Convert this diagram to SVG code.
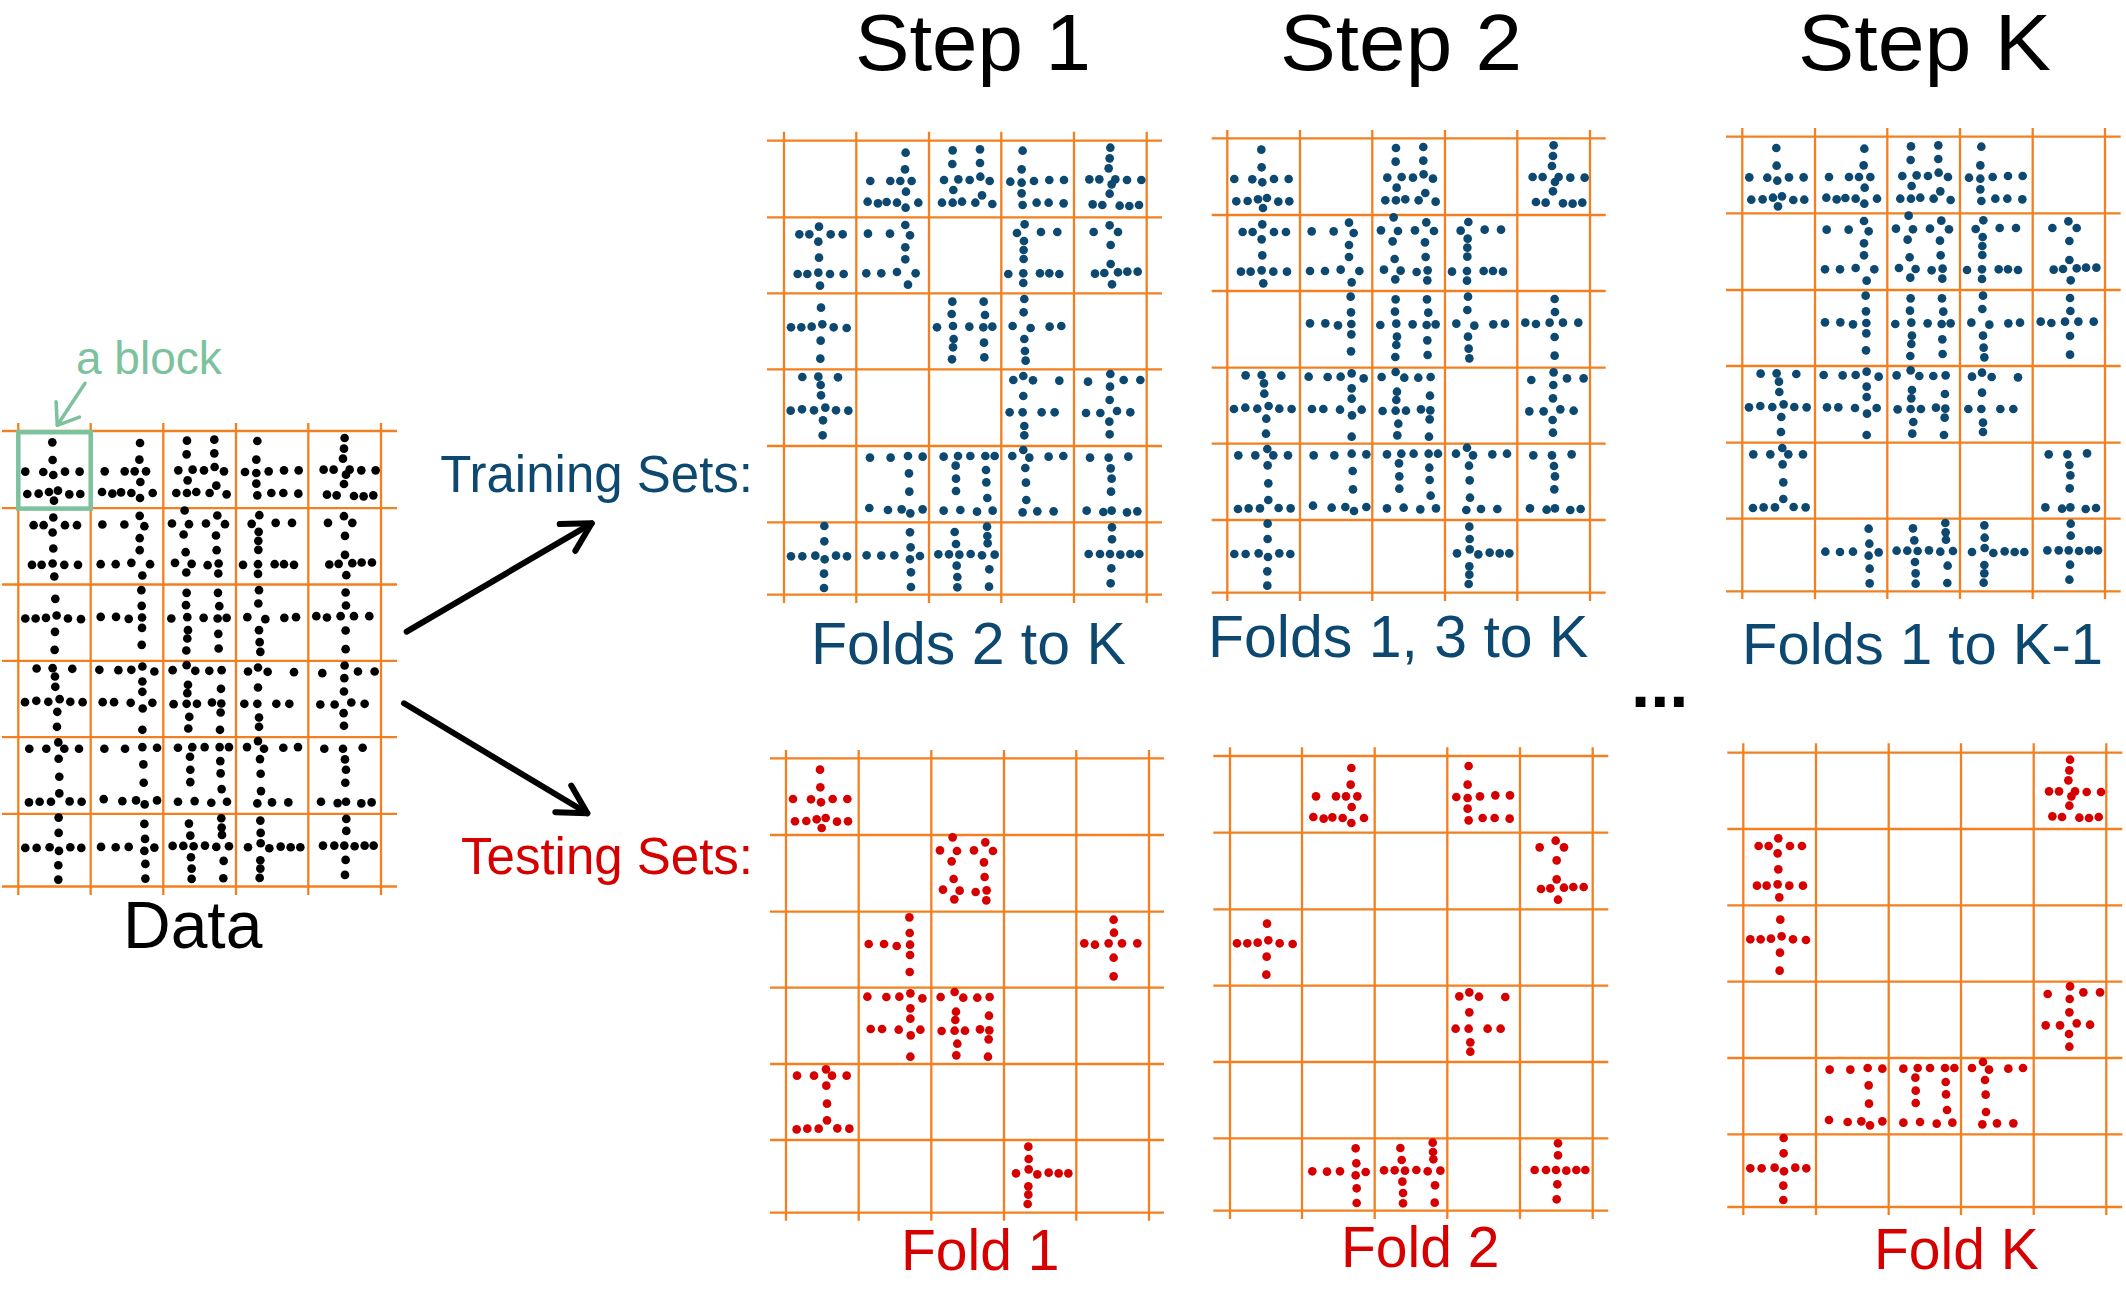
<svg xmlns="http://www.w3.org/2000/svg" xmlns:xlink="http://www.w3.org/1999/xlink" width="2126" height="1299" viewBox="0 0 2126 1299">
<style>
.grid{fill:none;stroke:#f28021;stroke-width:2.3}
.t{font-family:"Liberation Sans",Arial,Helvetica,sans-serif}
.blk{fill:#000}.blu{fill:#0c4870}.red{fill:#d60000}
.arr{fill:none;stroke:#000;stroke-width:6;stroke-linecap:round;stroke-linejoin:round}
.garr{fill:none;stroke:#7cc29c;stroke-width:3.5;stroke-linecap:round;stroke-linejoin:round}
</style>
<defs>
<marker id="ah" markerUnits="userSpaceOnUse" orient="auto" refX="0" refY="0" overflow="visible" markerWidth="1" markerHeight="1"><path d="M-28,-15.5L0,0L-28,15.5" fill="none" stroke="#000" stroke-width="6" stroke-linecap="round" stroke-linejoin="round"/></marker>
<marker id="gah" markerUnits="userSpaceOnUse" orient="auto" refX="0" refY="0" overflow="visible" markerWidth="1" markerHeight="1"><path d="M-19,-14L0,0L-19,14" fill="none" stroke="#7cc29c" stroke-width="3.5" stroke-linecap="round" stroke-linejoin="round"/></marker>
<g id="p00" transform="scale(0.33333) translate(-78,-55)"><circle cx="180" cy="89" r="13"/><circle cx="181" cy="142" r="13"/><circle cx="99" cy="177" r="13"/><circle cx="153" cy="178" r="13"/><circle cx="183" cy="187" r="13"/><circle cx="218" cy="177" r="13"/><circle cx="262" cy="177" r="13"/><circle cx="105" cy="244" r="13"/><circle cx="139" cy="243" r="13"/><circle cx="170" cy="238" r="13"/><circle cx="197" cy="234" r="13"/><circle cx="185" cy="264" r="13"/><circle cx="231" cy="245" r="13"/><circle cx="264" cy="244" r="13"/></g>
<g id="p01" transform="scale(0.33333) translate(-289,-62)"><circle cx="437" cy="98" r="13"/><circle cx="435" cy="148" r="13"/><circle cx="331" cy="183" r="13"/><circle cx="391" cy="183" r="13"/><circle cx="421" cy="183" r="13"/><circle cx="455" cy="183" r="13"/><circle cx="438" cy="215" r="13"/><circle cx="323" cy="245" r="13"/><circle cx="354" cy="250" r="13"/><circle cx="380" cy="246" r="13"/><circle cx="411" cy="248" r="13"/><circle cx="437" cy="263" r="13"/><circle cx="475" cy="248" r="13"/></g>
<g id="p02" transform="scale(0.33333) translate(-507,-62)"><circle cx="578" cy="91" r="13"/><circle cx="660" cy="88" r="13"/><circle cx="577" cy="132" r="13"/><circle cx="660" cy="129" r="13"/><circle cx="552" cy="180" r="13"/><circle cx="595" cy="178" r="13"/><circle cx="629" cy="180" r="13"/><circle cx="661" cy="170" r="13"/><circle cx="689" cy="183" r="13"/><circle cx="580" cy="210" r="13"/><circle cx="666" cy="226" r="13"/><circle cx="546" cy="248" r="13"/><circle cx="578" cy="248" r="13"/><circle cx="606" cy="245" r="13"/><circle cx="646" cy="248" r="13"/><circle cx="697" cy="252" r="13"/></g>
<g id="p03" transform="scale(0.33333) translate(-724,-62)"><circle cx="788" cy="92" r="13"/><circle cx="785" cy="148" r="13"/><circle cx="751" cy="185" r="13"/><circle cx="785" cy="188" r="13"/><circle cx="822" cy="183" r="13"/><circle cx="868" cy="180" r="13"/><circle cx="912" cy="180" r="13"/><circle cx="785" cy="220" r="13"/><circle cx="788" cy="255" r="13"/><circle cx="830" cy="248" r="13"/><circle cx="866" cy="248" r="13"/><circle cx="911" cy="250" r="13"/></g>
<g id="p04" transform="scale(0.33333) translate(-942,-62)"><circle cx="1051" cy="83" r="13"/><circle cx="1049" cy="115" r="13"/><circle cx="1046" cy="145" r="13"/><circle cx="988" cy="178" r="13"/><circle cx="1018" cy="178" r="13"/><circle cx="1066" cy="178" r="13"/><circle cx="1055" cy="193" r="13"/><circle cx="1101" cy="180" r="13"/><circle cx="1144" cy="180" r="13"/><circle cx="1049" cy="221" r="13"/><circle cx="998" cy="253" r="13"/><circle cx="1027" cy="255" r="13"/><circle cx="1079" cy="257" r="13"/><circle cx="1108" cy="258" r="13"/><circle cx="1137" cy="255" r="13"/></g>
<g id="p10" transform="scale(0.33333) translate(-72,-292)"><circle cx="177" cy="320" r="13"/><circle cx="118" cy="343" r="13"/><circle cx="148" cy="343" r="13"/><circle cx="212" cy="343" r="13"/><circle cx="248" cy="343" r="13"/><circle cx="175" cy="365" r="13"/><circle cx="177" cy="413" r="13"/><circle cx="113" cy="462" r="13"/><circle cx="142" cy="462" r="13"/><circle cx="175" cy="458" r="13"/><circle cx="210" cy="462" r="13"/><circle cx="251" cy="462" r="13"/><circle cx="180" cy="497" r="13"/></g>
<g id="p11" transform="scale(0.33333) translate(-289,-292)"><circle cx="436" cy="315" r="13"/><circle cx="324" cy="341" r="13"/><circle cx="390" cy="341" r="13"/><circle cx="450" cy="346" r="13"/><circle cx="436" cy="382" r="13"/><circle cx="436" cy="418" r="13"/><circle cx="319" cy="460" r="13"/><circle cx="364" cy="460" r="13"/><circle cx="411" cy="456" r="13"/><circle cx="467" cy="460" r="13"/><circle cx="444" cy="494" r="13"/></g>
<g id="p12" transform="scale(0.33333) translate(-514,-285)"><circle cx="578" cy="292" r="13"/><circle cx="540" cy="331" r="13"/><circle cx="591" cy="333" r="13"/><circle cx="642" cy="331" r="13"/><circle cx="676" cy="307" r="13"/><circle cx="699" cy="333" r="13"/><circle cx="575" cy="364" r="13"/><circle cx="672" cy="367" r="13"/><circle cx="581" cy="417" r="13"/><circle cx="674" cy="411" r="13"/><circle cx="549" cy="449" r="13"/><circle cx="599" cy="452" r="13"/><circle cx="647" cy="456" r="13"/><circle cx="680" cy="451" r="13"/><circle cx="583" cy="478" r="13"/><circle cx="679" cy="481" r="13"/></g>
<g id="p13" transform="scale(0.33333) translate(-724,-292)"><circle cx="794" cy="313" r="13"/><circle cx="771" cy="339" r="13"/><circle cx="843" cy="336" r="13"/><circle cx="892" cy="336" r="13"/><circle cx="792" cy="363" r="13"/><circle cx="791" cy="390" r="13"/><circle cx="791" cy="417" r="13"/><circle cx="745" cy="462" r="13"/><circle cx="790" cy="460" r="13"/><circle cx="840" cy="460" r="13"/><circle cx="868" cy="460" r="13"/><circle cx="898" cy="462" r="13"/><circle cx="790" cy="489" r="13"/></g>
<g id="p14" transform="scale(0.33333) translate(-942,-292)"><circle cx="1049" cy="316" r="13"/><circle cx="1001" cy="336" r="13"/><circle cx="1074" cy="336" r="13"/><circle cx="1052" cy="375" r="13"/><circle cx="1052" cy="432" r="13"/><circle cx="1005" cy="461" r="13"/><circle cx="1033" cy="459" r="13"/><circle cx="1074" cy="457" r="13"/><circle cx="1102" cy="455" r="13"/><circle cx="1133" cy="455" r="13"/><circle cx="1056" cy="493" r="13"/></g>
<g id="p20" transform="scale(0.33333) translate(-72,-520)"><circle cx="183" cy="563" r="13"/><circle cx="93" cy="622" r="13"/><circle cx="124" cy="622" r="13"/><circle cx="155" cy="620" r="13"/><circle cx="187" cy="613" r="13"/><circle cx="221" cy="622" r="13"/><circle cx="260" cy="624" r="13"/><circle cx="182" cy="662" r="13"/><circle cx="181" cy="716" r="13"/></g>
<g id="p21" transform="scale(0.33333) translate(-296,-515)"><circle cx="448" cy="532" r="13"/><circle cx="449" cy="579" r="13"/><circle cx="326" cy="612" r="13"/><circle cx="372" cy="612" r="13"/><circle cx="410" cy="618" r="13"/><circle cx="450" cy="614" r="13"/><circle cx="450" cy="645" r="13"/><circle cx="449" cy="696" r="13"/></g>
<g id="p22" transform="scale(0.33333) translate(-507,-520)"><circle cx="577" cy="545" r="13"/><circle cx="671" cy="545" r="13"/><circle cx="575" cy="582" r="13"/><circle cx="675" cy="585" r="13"/><circle cx="531" cy="622" r="13"/><circle cx="579" cy="618" r="13"/><circle cx="628" cy="620" r="13"/><circle cx="670" cy="622" r="13"/><circle cx="697" cy="620" r="13"/><circle cx="581" cy="657" r="13"/><circle cx="579" cy="682" r="13"/><circle cx="576" cy="718" r="13"/><circle cx="672" cy="668" r="13"/><circle cx="673" cy="712" r="13"/></g>
<g id="p23" transform="scale(0.33333) translate(-724,-520)"><circle cx="793" cy="537" r="13"/><circle cx="791" cy="577" r="13"/><circle cx="758" cy="618" r="13"/><circle cx="812" cy="624" r="13"/><circle cx="869" cy="620" r="13"/><circle cx="904" cy="618" r="13"/><circle cx="793" cy="657" r="13"/><circle cx="795" cy="693" r="13"/><circle cx="797" cy="722" r="13"/></g>
<g id="p24" transform="scale(0.33333) translate(-949,-515)"><circle cx="1061" cy="539" r="13"/><circle cx="1062" cy="578" r="13"/><circle cx="973" cy="610" r="13"/><circle cx="1005" cy="614" r="13"/><circle cx="1046" cy="610" r="13"/><circle cx="1086" cy="610" r="13"/><circle cx="1132" cy="610" r="13"/><circle cx="1061" cy="653" r="13"/><circle cx="1061" cy="709" r="13"/></g>
<g id="p30" transform="scale(0.33333) translate(-72,-748)"><circle cx="127" cy="771" r="13"/><circle cx="175" cy="770" r="13"/><circle cx="234" cy="772" r="13"/><circle cx="182" cy="795" r="13"/><circle cx="183" cy="826" r="13"/><circle cx="92" cy="872" r="13"/><circle cx="126" cy="868" r="13"/><circle cx="162" cy="871" r="13"/><circle cx="196" cy="863" r="13"/><circle cx="228" cy="871" r="13"/><circle cx="265" cy="872" r="13"/><circle cx="189" cy="901" r="13"/><circle cx="188" cy="946" r="13"/></g>
<g id="p31" transform="scale(0.33333) translate(-296,-743)"><circle cx="322" cy="770" r="13"/><circle cx="379" cy="771" r="13"/><circle cx="418" cy="770" r="13"/><circle cx="451" cy="760" r="13"/><circle cx="487" cy="775" r="13"/><circle cx="451" cy="805" r="13"/><circle cx="451" cy="836" r="13"/><circle cx="332" cy="867" r="13"/><circle cx="366" cy="867" r="13"/><circle cx="416" cy="869" r="13"/><circle cx="452" cy="886" r="13"/><circle cx="481" cy="869" r="13"/><circle cx="451" cy="950" r="13"/></g>
<g id="p32" transform="scale(0.33333) translate(-514,-743)"><circle cx="542" cy="771" r="13"/><circle cx="584" cy="756" r="13"/><circle cx="610" cy="773" r="13"/><circle cx="652" cy="773" r="13"/><circle cx="689" cy="771" r="13"/><circle cx="588" cy="815" r="13"/><circle cx="687" cy="827" r="13"/><circle cx="586" cy="840" r="13"/><circle cx="545" cy="873" r="13"/><circle cx="584" cy="872" r="13"/><circle cx="615" cy="872" r="13"/><circle cx="660" cy="868" r="13"/><circle cx="688" cy="871" r="13"/><circle cx="592" cy="911" r="13"/><circle cx="686" cy="898" r="13"/><circle cx="589" cy="946" r="13"/><circle cx="684" cy="950" r="13"/></g>
<g id="p33" transform="scale(0.33333) translate(-724,-748)"><circle cx="760" cy="780" r="13"/><circle cx="790" cy="768" r="13"/><circle cx="819" cy="781" r="13"/><circle cx="898" cy="782" r="13"/><circle cx="790" cy="828" r="13"/><circle cx="749" cy="877" r="13"/><circle cx="788" cy="877" r="13"/><circle cx="845" cy="877" r="13"/><circle cx="884" cy="877" r="13"/><circle cx="793" cy="918" r="13"/><circle cx="793" cy="946" r="13"/></g>
<g id="p34" transform="scale(0.33333) translate(-942,-748)"><circle cx="984" cy="785" r="13"/><circle cx="1051" cy="762" r="13"/><circle cx="1091" cy="780" r="13"/><circle cx="1141" cy="780" r="13"/><circle cx="1050" cy="800" r="13"/><circle cx="1049" cy="840" r="13"/><circle cx="978" cy="879" r="13"/><circle cx="1021" cy="879" r="13"/><circle cx="1071" cy="873" r="13"/><circle cx="1111" cy="877" r="13"/><circle cx="1048" cy="905" r="13"/><circle cx="1049" cy="943" r="13"/></g>
<g id="p40" transform="scale(0.33333) translate(-78,-972)"><circle cx="111" cy="1007" r="13"/><circle cx="162" cy="1007" r="13"/><circle cx="198" cy="988" r="13"/><circle cx="216" cy="1007" r="13"/><circle cx="260" cy="1007" r="13"/><circle cx="199" cy="1037" r="13"/><circle cx="201" cy="1091" r="13"/><circle cx="201" cy="1141" r="13"/><circle cx="110" cy="1168" r="13"/><circle cx="142" cy="1166" r="13"/><circle cx="176" cy="1166" r="13"/><circle cx="232" cy="1165" r="13"/><circle cx="268" cy="1166" r="13"/></g>
<g id="p41" transform="scale(0.33333) translate(-289,-978)"><circle cx="330" cy="1013" r="13"/><circle cx="392" cy="1013" r="13"/><circle cx="444" cy="1008" r="13"/><circle cx="488" cy="1010" r="13"/><circle cx="447" cy="1060" r="13"/><circle cx="448" cy="1115" r="13"/><circle cx="328" cy="1164" r="13"/><circle cx="384" cy="1170" r="13"/><circle cx="425" cy="1168" r="13"/><circle cx="451" cy="1180" r="13"/><circle cx="488" cy="1168" r="13"/></g>
<g id="p42" transform="scale(0.33333) translate(-507,-978)"><circle cx="551" cy="1010" r="13"/><circle cx="594" cy="1008" r="13"/><circle cx="631" cy="1008" r="13"/><circle cx="676" cy="1008" r="13"/><circle cx="704" cy="1008" r="13"/><circle cx="587" cy="1037" r="13"/><circle cx="678" cy="1050" r="13"/><circle cx="588" cy="1076" r="13"/><circle cx="679" cy="1087" r="13"/><circle cx="588" cy="1113" r="13"/><circle cx="682" cy="1134" r="13"/><circle cx="551" cy="1172" r="13"/><circle cx="601" cy="1170" r="13"/><circle cx="651" cy="1175" r="13"/><circle cx="698" cy="1172" r="13"/></g>
<g id="p43" transform="scale(0.33333) translate(-724,-978)"><circle cx="757" cy="1008" r="13"/><circle cx="790" cy="990" r="13"/><circle cx="808" cy="1013" r="13"/><circle cx="866" cy="1010" r="13"/><circle cx="910" cy="1008" r="13"/><circle cx="796" cy="1044" r="13"/><circle cx="798" cy="1088" r="13"/><circle cx="799" cy="1140" r="13"/><circle cx="788" cy="1177" r="13"/><circle cx="832" cy="1174" r="13"/><circle cx="881" cy="1174" r="13"/></g>
<g id="p44" transform="scale(0.33333) translate(-942,-978)"><circle cx="990" cy="1013" r="13"/><circle cx="1046" cy="1013" r="13"/><circle cx="1105" cy="1010" r="13"/><circle cx="1052" cy="1045" r="13"/><circle cx="1055" cy="1076" r="13"/><circle cx="1053" cy="1115" r="13"/><circle cx="980" cy="1172" r="13"/><circle cx="1030" cy="1176" r="13"/><circle cx="1055" cy="1172" r="13"/><circle cx="1101" cy="1177" r="13"/><circle cx="1132" cy="1174" r="13"/></g>
<g id="p50" transform="scale(0.33333) translate(-72,-1207)"><circle cx="193" cy="1218" r="13"/><circle cx="193" cy="1264" r="13"/><circle cx="93" cy="1309" r="13"/><circle cx="127" cy="1309" r="13"/><circle cx="166" cy="1307" r="13"/><circle cx="194" cy="1318" r="13"/><circle cx="228" cy="1307" r="13"/><circle cx="261" cy="1309" r="13"/><circle cx="192" cy="1361" r="13"/><circle cx="192" cy="1404" r="13"/></g>
<g id="p51" transform="scale(0.33333) translate(-289,-1207)"><circle cx="450" cy="1237" r="13"/><circle cx="452" cy="1282" r="13"/><circle cx="320" cy="1306" r="13"/><circle cx="364" cy="1307" r="13"/><circle cx="403" cy="1306" r="13"/><circle cx="450" cy="1318" r="13"/><circle cx="480" cy="1308" r="13"/><circle cx="453" cy="1357" r="13"/><circle cx="453" cy="1401" r="13"/></g>
<g id="p52" transform="scale(0.33333) translate(-507,-1207)"><circle cx="584" cy="1236" r="13"/><circle cx="681" cy="1220" r="13"/><circle cx="682" cy="1248" r="13"/><circle cx="683" cy="1270" r="13"/><circle cx="588" cy="1272" r="13"/><circle cx="535" cy="1303" r="13"/><circle cx="567" cy="1303" r="13"/><circle cx="598" cy="1304" r="13"/><circle cx="632" cy="1302" r="13"/><circle cx="666" cy="1306" r="13"/><circle cx="704" cy="1304" r="13"/><circle cx="590" cy="1337" r="13"/><circle cx="688" cy="1348" r="13"/><circle cx="592" cy="1371" r="13"/><circle cx="592" cy="1402" r="13"/><circle cx="687" cy="1400" r="13"/></g>
<g id="p53" transform="scale(0.33333) translate(-732,-1200)"><circle cx="805" cy="1220" r="13"/><circle cx="806" cy="1257" r="13"/><circle cx="768" cy="1300" r="13"/><circle cx="806" cy="1288" r="13"/><circle cx="832" cy="1303" r="13"/><circle cx="866" cy="1298" r="13"/><circle cx="896" cy="1300" r="13"/><circle cx="925" cy="1300" r="13"/><circle cx="805" cy="1339" r="13"/><circle cx="805" cy="1364" r="13"/><circle cx="803" cy="1392" r="13"/></g>
<g id="p54" transform="scale(0.33333) translate(-942,-1207)"><circle cx="1056" cy="1222" r="13"/><circle cx="1056" cy="1258" r="13"/><circle cx="986" cy="1302" r="13"/><circle cx="1020" cy="1302" r="13"/><circle cx="1050" cy="1302" r="13"/><circle cx="1081" cy="1304" r="13"/><circle cx="1111" cy="1302" r="13"/><circle cx="1138" cy="1302" r="13"/><circle cx="1054" cy="1345" r="13"/><circle cx="1052" cy="1390" r="13"/></g>
</defs>
<rect width="2126" height="1299" fill="#fff"/>

<g id="titles" class="t" font-size="80" fill="#000">
<text x="855" y="70" textLength="236" lengthAdjust="spacingAndGlyphs">Step 1</text>
<text x="1280" y="70" textLength="242" lengthAdjust="spacingAndGlyphs">Step 2</text>
<text x="1798" y="70" textLength="253" lengthAdjust="spacingAndGlyphs">Step K</text>
</g>

<g id="data">
<path class="grid" d="M18.3,423V895M90.7,423V895M163.3,423V895M236,423V895M308.3,423V895M381,423V895M2,431H397M2,508.2H397M2,584.5H397M2,660.8H397M2,737.1H397M2,813.9H397M2,886.5H397"/>
<g class="blk">
<use href="#p00" x="18.3" y="431"/><use href="#p01" x="90.7" y="431"/><use href="#p02" x="163.3" y="431"/><use href="#p03" x="236" y="431"/><use href="#p04" x="308.3" y="431"/>
<use href="#p10" x="18.3" y="508.2"/><use href="#p11" x="90.7" y="508.2"/><use href="#p12" x="163.3" y="508.2"/><use href="#p13" x="236" y="508.2"/><use href="#p14" x="308.3" y="508.2"/>
<use href="#p20" x="18.3" y="584.5"/><use href="#p21" x="90.7" y="584.5"/><use href="#p22" x="163.3" y="584.5"/><use href="#p23" x="236" y="584.5"/><use href="#p24" x="308.3" y="584.5"/>
<use href="#p30" x="18.3" y="660.8"/><use href="#p31" x="90.7" y="660.8"/><use href="#p32" x="163.3" y="660.8"/><use href="#p33" x="236" y="660.8"/><use href="#p34" x="308.3" y="660.8"/>
<use href="#p40" x="18.3" y="737.1"/><use href="#p41" x="90.7" y="737.1"/><use href="#p42" x="163.3" y="737.1"/><use href="#p43" x="236" y="737.1"/><use href="#p44" x="308.3" y="737.1"/>
<use href="#p50" x="18.3" y="813.9"/><use href="#p51" x="90.7" y="813.9"/><use href="#p52" x="163.3" y="813.9"/><use href="#p53" x="236" y="813.9"/><use href="#p54" x="308.3" y="813.9"/>
</g>
<rect x="18.3" y="432.2" width="72.4" height="76.4" fill="none" stroke="#7cc29c" stroke-width="4.5"/>
<text class="t" x="123" y="948" font-size="66" fill="#000">Data</text>
</g>

<g id="block-label">
<text class="t" x="76" y="374" font-size="46" fill="#7cc29c">a block</text>
</g>

<g id="labels" class="t" font-size="51">
<text x="753" y="491.7" text-anchor="end" fill="#0c4870">Training Sets:</text>
<text x="753" y="874" text-anchor="end" fill="#d60000">Testing Sets:</text>
</g>

<g id="train1">
<path class="grid" d="M784,131.7V603M856.3,131.7V603M929,131.7V603M1001.3,131.7V603M1074,131.7V603M1146.7,131.7V603M767,140.7H1162M767,217.3H1162M767,293.3H1162M767,369.3H1162M767,446H1162M767,522.3H1162M767,594.7H1162"/>
<g class="blu">
<use href="#p01" x="856.3" y="140.7"/><use href="#p02" x="929" y="140.7"/><use href="#p03" x="1001.3" y="140.7"/><use href="#p04" x="1074" y="140.7"/>
<use href="#p10" x="784" y="217.3"/><use href="#p11" x="856.3" y="217.3"/><use href="#p13" x="1001.3" y="217.3"/><use href="#p14" x="1074" y="217.3"/>
<use href="#p20" x="784" y="293.3"/><use href="#p22" x="929" y="293.3"/><use href="#p23" x="1001.3" y="293.3"/>
<use href="#p30" x="784" y="369.3"/><use href="#p33" x="1001.3" y="369.3"/><use href="#p34" x="1074" y="369.3"/>
<use href="#p41" x="856.3" y="446"/><use href="#p42" x="929" y="446"/><use href="#p43" x="1001.3" y="446"/><use href="#p44" x="1074" y="446"/>
<use href="#p50" x="784" y="522.3"/><use href="#p51" x="856.3" y="522.3"/><use href="#p52" x="929" y="522.3"/><use href="#p54" x="1074" y="522.3"/>
</g>
<text class="t" x="811" y="664" font-size="59" fill="#0c4870">Folds 2 to K</text>
</g>

<g id="train2">
<path class="grid" d="M1227.3,130V601M1300,130V601M1372.3,130V601M1445,130V601M1517.3,130V601M1590,130V601M1211.7,138.3H1605.7M1211.7,215H1605.7M1211.7,291H1605.7M1211.7,367.7H1605.7M1211.7,443.7H1605.7M1211.7,520H1605.7M1211.7,592.7H1605.7"/>
<g class="blu">
<use href="#p00" x="1227.3" y="138.3"/><use href="#p02" x="1372.3" y="138.3"/><use href="#p04" x="1517.3" y="138.3"/>
<use href="#p10" x="1227.3" y="215"/><use href="#p11" x="1300" y="215"/><use href="#p12" x="1372.3" y="215"/><use href="#p13" x="1445" y="215"/>
<use href="#p21" x="1300" y="291"/><use href="#p22" x="1372.3" y="291"/><use href="#p23" x="1445" y="291"/><use href="#p24" x="1517.3" y="291"/>
<use href="#p30" x="1227.3" y="367.7"/><use href="#p31" x="1300" y="367.7"/><use href="#p32" x="1372.3" y="367.7"/><use href="#p34" x="1517.3" y="367.7"/>
<use href="#p40" x="1227.3" y="443.7"/><use href="#p41" x="1300" y="443.7"/><use href="#p42" x="1372.3" y="443.7"/><use href="#p43" x="1445" y="443.7"/><use href="#p44" x="1517.3" y="443.7"/>
<use href="#p50" x="1227.3" y="520"/><use href="#p53" x="1445" y="520"/>
</g>
<text class="t" x="1208" y="657" font-size="59" fill="#0c4870">Folds 1, 3 to K</text>
</g>

<g id="trainK">
<path class="grid" d="M1742.3,128V599M1815,128V599M1887.3,128V599M1960,128V599M2032.7,128V599M2105,128V599M1726,136.7H2120.7M1726,213.3H2120.7M1726,290H2120.7M1726,366H2120.7M1726,442.7H2120.7M1726,518.7H2120.7M1726,591.3H2120.7"/>
<g class="blu">
<use href="#p00" x="1742.3" y="136.7"/><use href="#p01" x="1815" y="136.7"/><use href="#p02" x="1887.3" y="136.7"/><use href="#p03" x="1960" y="136.7"/>
<use href="#p11" x="1815" y="213.3"/><use href="#p12" x="1887.3" y="213.3"/><use href="#p13" x="1960" y="213.3"/><use href="#p14" x="2032.7" y="213.3"/>
<use href="#p21" x="1815" y="290"/><use href="#p22" x="1887.3" y="290"/><use href="#p23" x="1960" y="290"/><use href="#p24" x="2032.7" y="290"/>
<use href="#p30" x="1742.3" y="366"/><use href="#p31" x="1815" y="366"/><use href="#p32" x="1887.3" y="366"/><use href="#p33" x="1960" y="366"/>
<use href="#p40" x="1742.3" y="442.7"/><use href="#p44" x="2032.7" y="442.7"/>
<use href="#p51" x="1815" y="518.7"/><use href="#p52" x="1887.3" y="518.7"/><use href="#p53" x="1960" y="518.7"/><use href="#p54" x="2032.7" y="518.7"/>
</g>
<text class="t" x="1742" y="664" font-size="58" fill="#0c4870">Folds 1 to K-1</text>
</g>

<g id="ellipsis">
<text class="t" x="1631" y="707" font-size="69" font-weight="bold" fill="#000">...</text>
</g>

<g id="test1">
<path class="grid" d="M786,750V1220.7M858.7,750V1220.7M931.3,750V1220.7M1004,750V1220.7M1076.3,750V1220.7M1149,750V1220.7M770,758.3H1164M770,835H1164M770,911.7H1164M770,987.7H1164M770,1064H1164M770,1140H1164M770,1212.7H1164"/>
<g class="red">
<use href="#p00" x="786" y="758.3"/><use href="#p12" x="931.3" y="835"/><use href="#p21" x="858.7" y="911.7"/><use href="#p24" x="1076.3" y="911.7"/>
<use href="#p31" x="858.7" y="987.7"/><use href="#p32" x="931.3" y="987.7"/><use href="#p40" x="786" y="1064"/><use href="#p53" x="1004" y="1140"/>
</g>
<text class="t" x="901" y="1270" font-size="57" fill="#d60000">Fold 1</text>
</g>

<g id="test2">
<path class="grid" d="M1230,747.3V1219M1302,747.3V1219M1374.7,747.3V1219M1447.3,747.3V1219M1520,747.3V1219M1592.7,747.3V1219M1213.3,756H1608.3M1213.3,832.7H1608.3M1213.3,909.3H1608.3M1213.3,985.7H1608.3M1213.3,1062H1608.3M1213.3,1138.3H1608.3M1213.3,1210.7H1608.3"/>
<g class="red">
<use href="#p01" x="1302" y="756"/><use href="#p03" x="1447.3" y="756"/><use href="#p14" x="1520" y="832.7"/><use href="#p20" x="1230" y="909.3"/>
<use href="#p33" x="1447.3" y="985.7"/><use href="#p51" x="1302" y="1138.3"/><use href="#p52" x="1374.7" y="1138.3"/><use href="#p54" x="1520" y="1138.3"/>
</g>
<text class="t" x="1341" y="1267" font-size="57" fill="#d60000">Fold 2</text>
</g>

<g id="testK">
<path class="grid" d="M1743.3,743.3V1215M1816,743.3V1215M1888.7,743.3V1215M1961,743.3V1215M2033.7,743.3V1215M2106.3,743.3V1215M1727.3,752.7H2122.3M1727.3,829H2122.3M1727.3,905.3H2122.3M1727.3,981.7H2122.3M1727.3,1058H2122.3M1727.3,1134.3H2122.3M1727.3,1207H2122.3"/>
<g class="red">
<use href="#p04" x="2033.7" y="752.7"/><use href="#p10" x="1743.3" y="829"/><use href="#p20" x="1743.3" y="905.3"/><use href="#p34" x="2033.7" y="981.7"/>
<use href="#p41" x="1816" y="1058"/><use href="#p42" x="1888.7" y="1058"/><use href="#p43" x="1961" y="1058"/><use href="#p50" x="1743.3" y="1134.3"/>
</g>
<text class="t" x="1874" y="1269" font-size="57" fill="#d60000">Fold K</text>
</g>

<g id="connectors">
<path class="arr" d="M406.7,631.7L591.7,523.3" marker-end="url(#ah)"/>
<path class="arr" d="M404,703.3L587.3,813.3" marker-end="url(#ah)"/>
<path class="garr" d="M85,383.3L57.3,425.3" marker-end="url(#gah)"/>
</g>
</svg>
